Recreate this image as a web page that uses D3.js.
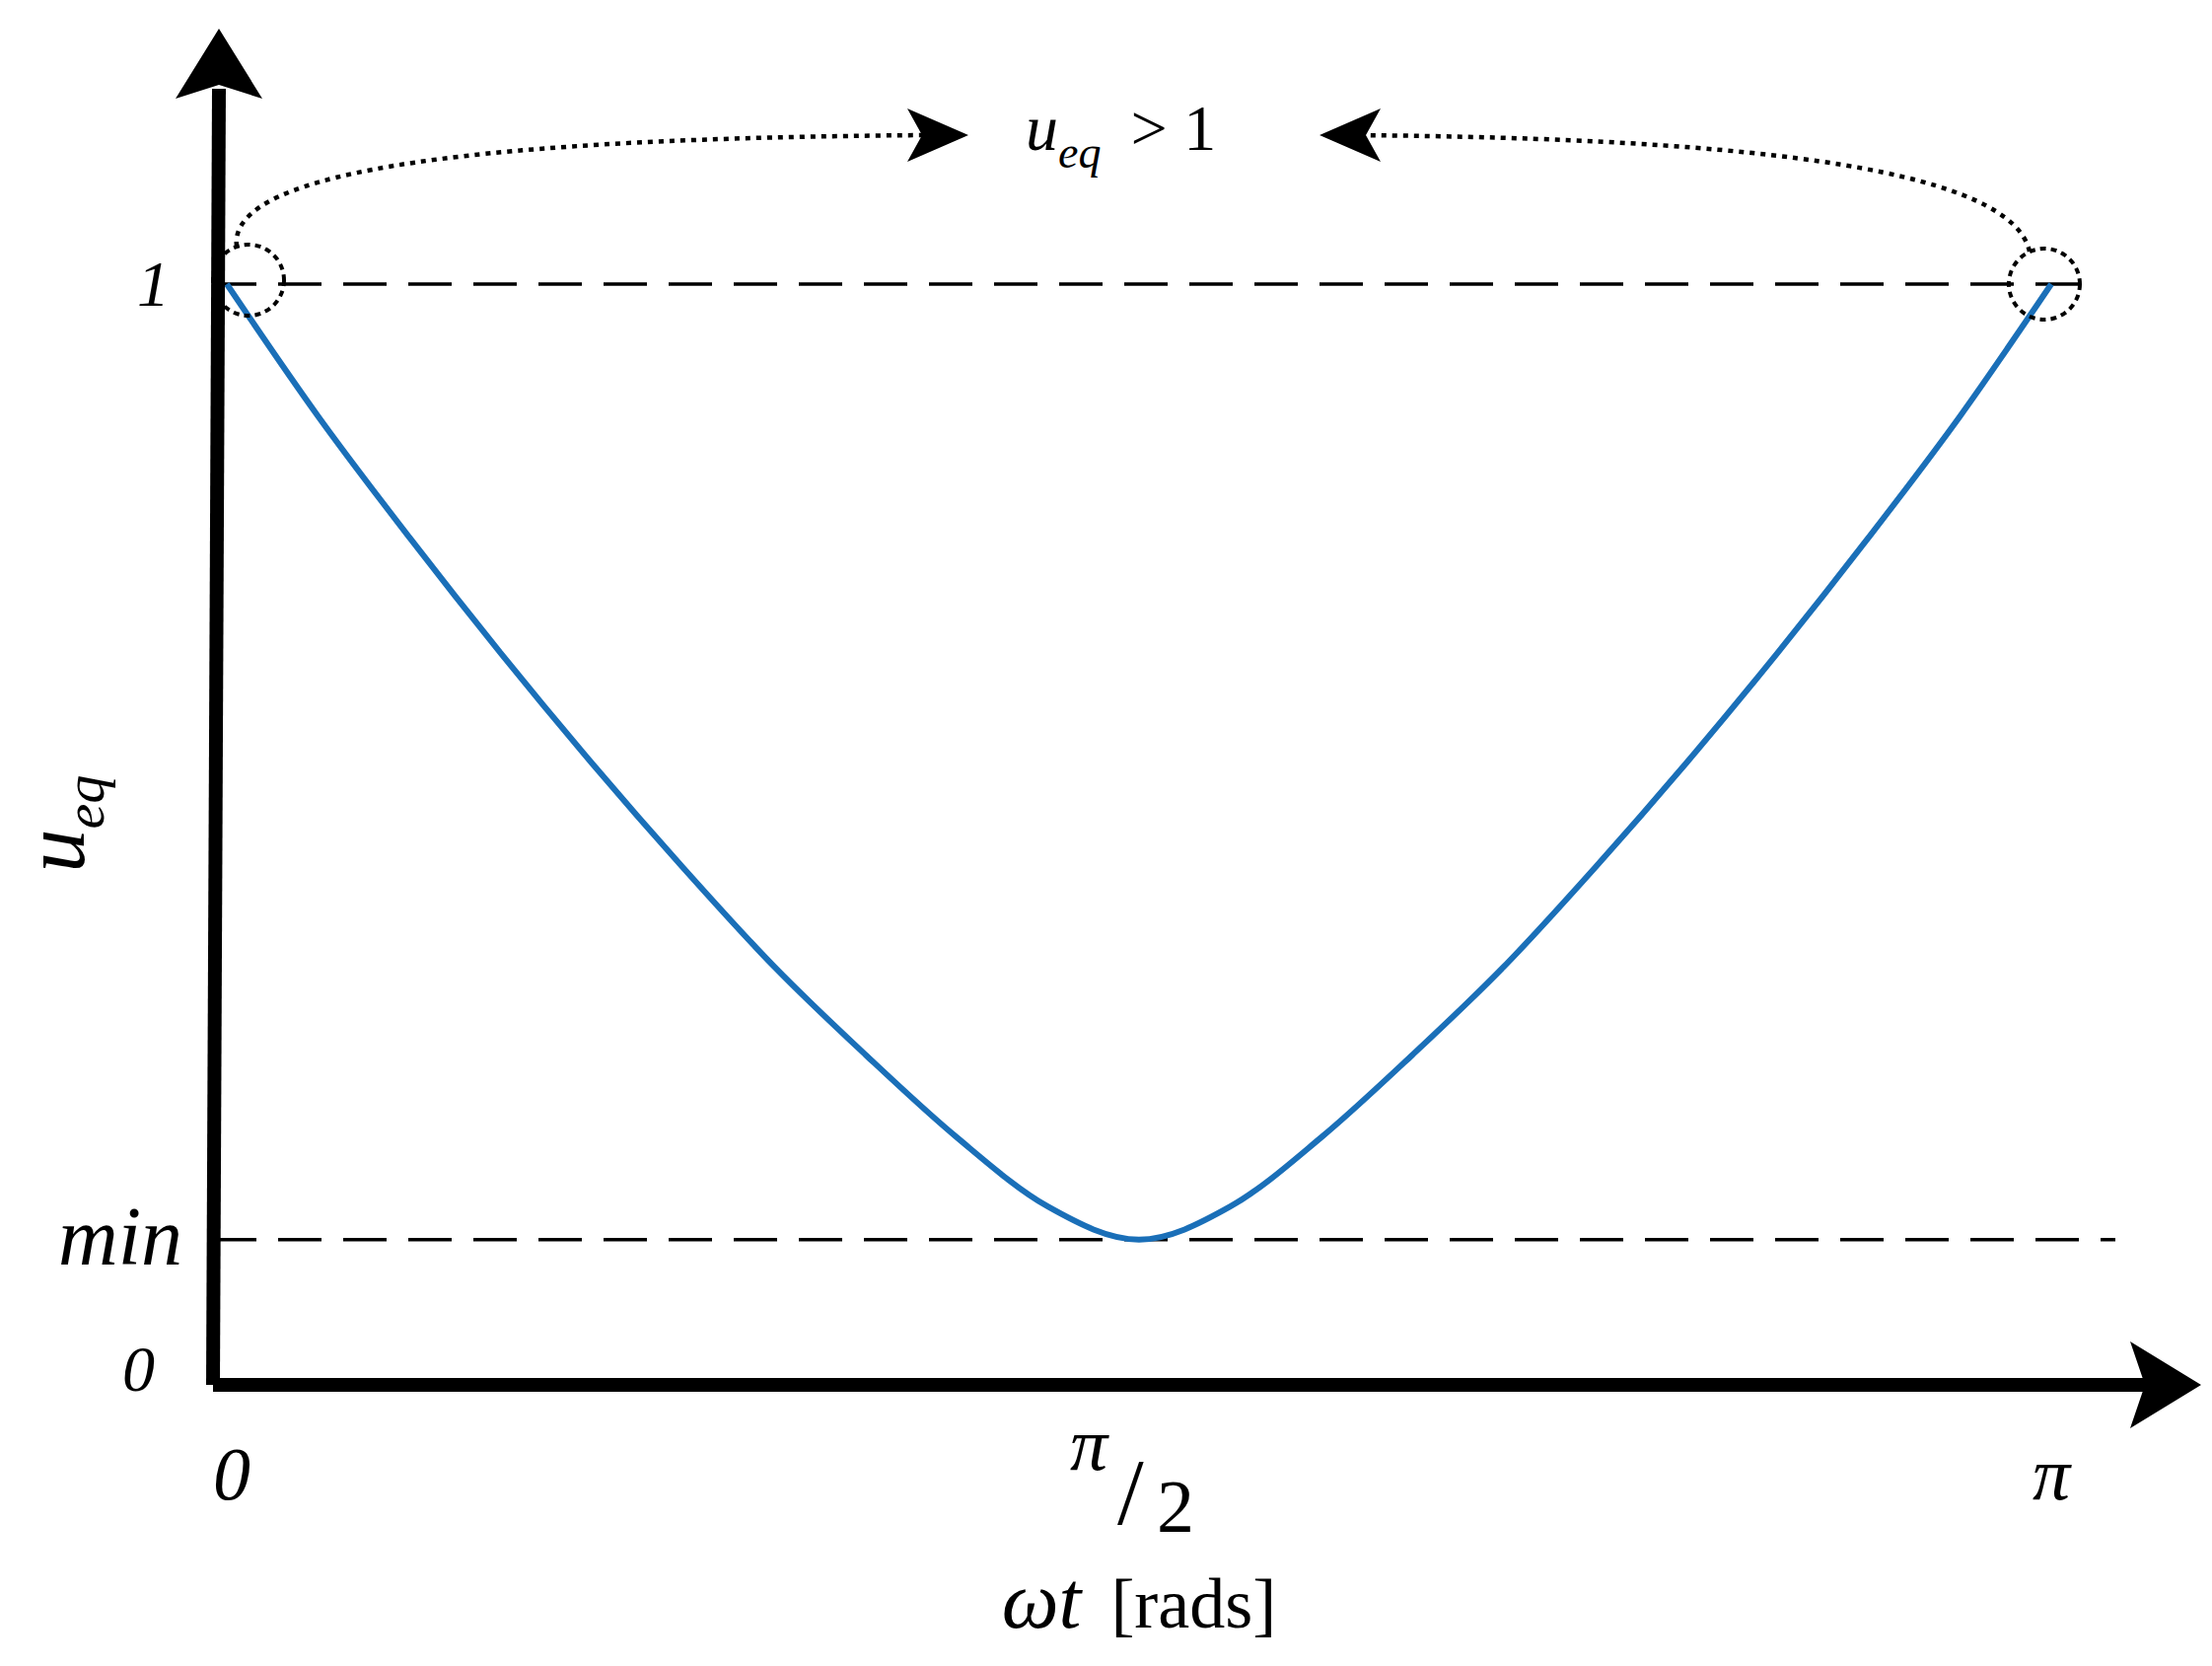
<!DOCTYPE html><html><head><meta charset="utf-8">
<script src="https://cdn.jsdelivr.net/npm/d3@7"></script>
<style>body{margin:0;background:#fff}</style></head><body>
<svg id="c" width="2243" height="1689"></svg>
<script>
const wtFrac=[0,0.05,0.1,0.15,0.2,0.25,0.3,0.35,0.4,0.45,0.5,0.55,0.6,0.65,0.7,0.75,0.8,0.85,0.9,0.95,1];
const ueq=[1,0.88,0.77,0.665,0.565,0.47,0.38,0.3,0.225,0.162,0.132,0.162,0.225,0.3,0.38,0.47,0.565,0.665,0.77,0.88,1];
const minVal=0.132;
const xTicks=[{v:0,t:"0"},{v:1,t:"π"}];
const svg=d3.select("#c");
const x=d3.scaleLinear().domain([0,1]).range([230,2080]);
const y=d3.scaleLinear().domain([0,1]).range([1404,288]);
const serif="'Liberation Serif','DejaVu Serif',serif";
svg.append("line").attr("x1",216).attr("x2",2130).attr("y1",y(1)).attr("y2",y(1)).attr("stroke","#000").attr("stroke-width",3.5).attr("stroke-dasharray","44,22");
svg.append("line").attr("x1",216).attr("x2",2145).attr("y1",y(minVal)).attr("y2",y(minVal)).attr("stroke","#000").attr("stroke-width",3.5).attr("stroke-dasharray","44,22");
svg.append("path").datum(wtFrac.map((f,i)=>[f,ueq[i]])).attr("fill","none").attr("stroke","#1a6fb8").attr("stroke-width",6)
 .attr("d",d3.line().x(d=>x(d[0])).y(d=>y(d[1])).curve(d3.curveMonotoneX));
svg.append("line").attr("x1",216).attr("y1",1404).attr("x2",2180).attr("y2",1404).attr("stroke","#000").attr("stroke-width",14);
svg.append("line").attr("x1",216).attr("y1",1404).attr("x2",222).attr("y2",90).attr("stroke","#000").attr("stroke-width",14);
svg.append("path").attr("d","M2232,1404 L2160,1360 L2175,1404 L2160,1448Z").attr("fill","#000");
svg.append("path").attr("d","M222,29 L178,100 L222,86 L266,100Z").attr("fill","#000");
svg.append("circle").attr("cx",252).attr("cy",284).attr("r",36).attr("fill","none").attr("stroke","#000").attr("stroke-width",4).attr("stroke-dasharray","6,5");
svg.append("circle").attr("cx",2073).attr("cy",288).attr("r",36).attr("fill","none").attr("stroke","#000").attr("stroke-width",4).attr("stroke-dasharray","6,5");
svg.append("path").attr("d","M240,250 C230,170 500,140 940,137").attr("fill","none").attr("stroke","#000").attr("stroke-width",4.5).attr("stroke-dasharray","5,6");
svg.append("path").attr("d","M2058,255 C2040,175 1800,140 1370,137").attr("fill","none").attr("stroke","#000").attr("stroke-width",4.5).attr("stroke-dasharray","5,6");
svg.append("path").attr("d","M982,137 L920,110 L935,137 L920,164Z").attr("fill","#000");
svg.append("path").attr("d","M1338,137 L1400,110 L1385,137 L1400,164Z").attr("fill","#000");
const ann=svg.append("text").attr("x",1040).attr("y",152).attr("font-family",serif).attr("font-size",66);
ann.append("tspan").attr("font-style","italic").text("u");
ann.append("tspan").attr("font-style","italic").attr("font-size",46).attr("dy",18).text("eq");
ann.append("tspan").attr("dy",-18).attr("dx",30).text("> 1");
svg.append("text").attr("x",172).attr("y",y(1)+22).attr("text-anchor","end").attr("font-family",serif).attr("font-style","italic").attr("font-size",66).text("1");
svg.append("text").attr("x",185).attr("y",y(minVal)+25).attr("text-anchor","end").attr("font-family",serif).attr("font-style","italic").attr("font-size",84).text("min");
svg.append("text").attr("x",157).attr("y",1410).attr("text-anchor","end").attr("font-family",serif).attr("font-style","italic").attr("font-size",66).text("0");
xTicks.forEach(t=>svg.append("text").attr("x",x(t.v)+(t.v?0:5)).attr("y",1520).attr("text-anchor","middle").attr("font-family",serif).attr("font-style","italic").attr("font-size",76).text(t.t));
const hx=x(0.5);
svg.append("text").attr("x",hx-70).attr("y",1490).attr("font-family",serif).attr("font-style","italic").attr("font-size",76).text("π");
svg.append("text").attr("x",hx-22).attr("y",1545).attr("font-family",serif).attr("font-size",96).text("/");
svg.append("text").attr("x",hx+18).attr("y",1553).attr("font-family",serif).attr("font-size",76).text("2");
const xt=svg.append("text").attr("x",hx).attr("y",1650).attr("text-anchor","middle").attr("font-family",serif).attr("font-size",72);
xt.append("tspan").attr("font-style","italic").attr("font-size",82).text("ωt");
xt.append("tspan").attr("dx",30).text("[rads]");
const yt=svg.append("text").attr("transform","translate(85,835) rotate(-90)").attr("text-anchor","middle").attr("font-family",serif).attr("font-style","italic").attr("font-size",88);
yt.append("tspan").text("u");
yt.append("tspan").attr("font-size",58).attr("dy",20).text("eq");
</script></body></html>
